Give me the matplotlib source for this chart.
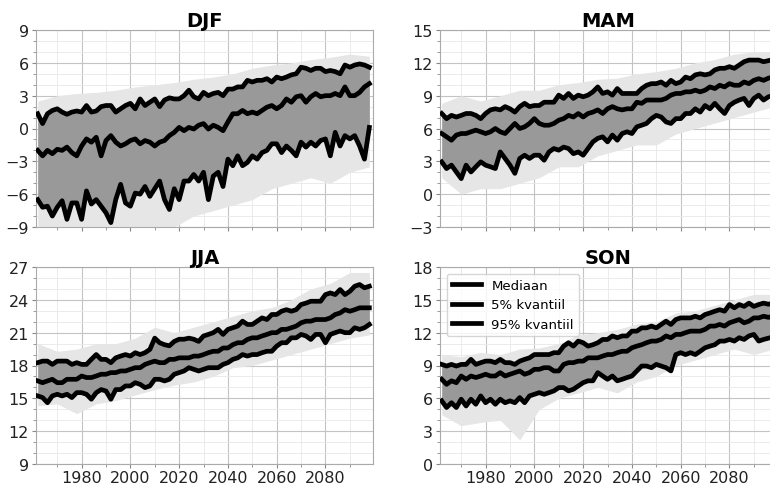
"""Seasonal temperature ensemble (DJF / MAM / JJA / SON), 1961-2099.

Grey = spread of the ensemble members, black = median and 5/95% quantiles.
"""
import matplotlib
matplotlib.use("Agg")
import matplotlib.pyplot as plt
from matplotlib.ticker import MultipleLocator

# --- data (every 2 years) ---------------------------------------------------
YEARS = list(range(1962, 2099, 2))

DJF_Q95 = [1.35, 0.45, 1.35, 1.65, 1.8, 1.5, 1.3, 1.5, 1.6, 1.5,
           2.1, 1.5, 1.6, 2.0, 2.1, 2.1, 1.5, 1.8, 2.1, 2.3,
           1.8, 2.7, 2.1, 2.4, 2.7, 2.0, 2.6, 2.8, 2.7, 2.7,
           3.0, 3.5, 2.9, 2.7, 3.3, 3.0, 3.2, 3.3, 3.0, 3.6,
           3.6, 3.8, 3.8, 4.4, 4.25, 4.4, 4.4, 4.55, 4.25, 4.7,
           4.55, 4.7, 4.9, 5.0, 5.6, 5.5, 5.3, 5.5, 5.5, 5.2,
           5.3, 5.2, 5.0, 5.8, 5.6, 5.8, 5.9, 5.8, 5.6]
DJF_MED = [-2.0, -2.5, -2.0, -2.3, -1.9, -2.0, -1.7, -2.2, -2.5, -1.6,
           -0.95, -1.25, -0.8, -2.5, -1.1, -0.65, -1.25, -1.6, -1.4, -1.1,
           -0.95, -1.4, -1.1, -1.25, -1.6, -1.25, -1.1, -0.65, -0.35, 0.1,
           -0.2, 0.1, -0.05, 0.3, 0.45, -0.05, 0.3, 0.1, -0.2, 0.6,
           1.35, 1.35, 1.65, 1.35, 1.5, 1.35, 1.65, 1.95, 2.1, 1.8,
           2.1, 2.7, 2.4, 2.9, 3.0, 2.4, 2.9, 3.2, 2.9, 3.0,
           3.0, 3.2, 3.0, 3.8, 3.0, 3.0, 3.3, 3.8, 4.1]
DJF_Q05 = [-6.5, -7.2, -7.1, -8.0, -7.2, -6.6, -8.3, -6.8, -6.8, -8.3,
           -5.7, -6.9, -6.5, -7.1, -7.7, -8.6, -6.5, -5.1, -6.8, -7.1,
           -5.9, -6.0, -5.3, -6.2, -5.5, -4.8, -6.5, -7.4, -5.5, -6.5,
           -4.8, -4.8, -4.2, -4.8, -4.0, -6.5, -4.35, -4.0, -5.3, -2.8,
           -3.4, -2.5, -3.4, -3.1, -2.5, -2.8, -2.2, -2.0, -1.4, -1.4,
           -2.2, -1.6, -2.0, -2.5, -1.25, -1.7, -1.25, -1.6, -1.1, -0.95,
           -2.5, -0.35, -1.6, -0.65, -0.95, -0.65, -1.6, -2.8, 0.1]

MAM_Q95 = [7.37, 6.9, 7.2, 7.05, 7.2, 7.37, 7.37, 7.2, 6.9, 7.37,
           7.7, 7.8, 7.7, 8.0, 7.8, 7.5, 8.0, 8.3, 8.0, 8.1,
           8.1, 8.4, 8.4, 8.4, 9.05, 8.75, 9.2, 8.75, 9.05, 8.9,
           9.05, 9.35, 9.8, 9.2, 9.35, 9.05, 9.65, 9.2, 9.2, 9.2,
           9.2, 9.65, 9.95, 10.1, 10.1, 10.25, 9.95, 10.4, 10.1, 10.25,
           10.7, 10.55, 10.9, 11.0, 10.9, 11.0, 11.35, 11.5, 11.5, 11.65,
           11.5, 11.8, 12.1, 12.25, 12.25, 12.25, 12.1, 12.2, 12.3]
MAM_MED = [5.54, 5.24, 4.93, 5.4, 5.54, 5.54, 5.7, 5.85, 5.7, 5.54,
           5.7, 6.0, 5.7, 5.54, 6.0, 6.46, 6.0, 6.15, 6.46, 6.9,
           6.46, 6.3, 6.3, 6.46, 6.76, 6.9, 7.2, 7.05, 7.37, 7.05,
           7.37, 7.5, 7.7, 7.37, 7.8, 8.0, 7.8, 7.7, 7.8, 7.8,
           8.4, 8.3, 8.6, 8.6, 8.6, 8.6, 8.75, 9.05, 9.2, 9.2,
           9.35, 9.35, 9.5, 9.35, 9.5, 9.8, 9.65, 9.95, 9.8, 10.1,
           9.95, 9.95, 10.25, 10.1, 10.4, 10.55, 10.4, 10.6, 10.7]
MAM_Q05 = [2.95, 2.34, 2.65, 2.03, 1.42, 2.65, 2.03, 2.5, 2.95, 2.65,
           2.5, 2.34, 3.86, 3.26, 2.65, 1.9, 3.26, 3.56, 3.26, 3.56,
           3.56, 3.1, 3.86, 4.17, 4.02, 4.3, 4.17, 3.7, 3.86, 3.56,
           4.17, 4.78, 5.1, 5.24, 4.78, 5.4, 4.93, 5.54, 5.7, 5.54,
           6.15, 6.3, 6.46, 6.9, 7.2, 7.05, 6.6, 6.46, 6.9, 6.9,
           7.37, 7.37, 7.8, 7.5, 8.1, 7.8, 8.3, 7.8, 7.37, 8.1,
           8.4, 8.6, 8.75, 8.1, 8.75, 9.05, 8.6, 8.9, 9.0]

JJA_Q95 = [18.26, 18.4, 18.4, 18.1, 18.4, 18.4, 18.4, 18.1, 18.26, 18.1,
           18.1, 18.56, 19.0, 18.56, 18.56, 18.26, 18.7, 18.86, 19.0, 18.86,
           19.17, 19.0, 19.17, 19.47, 20.5, 20.08, 19.9, 19.8, 20.2, 20.4,
           20.4, 20.5, 20.4, 20.2, 20.7, 20.84, 21.0, 21.3, 20.84, 21.3,
           21.45, 21.6, 22.05, 21.75, 21.75, 22.05, 22.35, 22.2, 22.66, 22.66,
           22.96, 23.1, 22.96, 23.1, 23.57, 23.7, 23.87, 23.87, 23.87, 24.48,
           24.63, 24.48, 24.94, 24.48, 24.78, 25.24, 25.4, 25.1, 25.24]
JJA_MED = [16.59, 16.43, 16.59, 16.74, 16.43, 16.43, 16.74, 16.74, 16.74, 17.04,
           16.9, 16.9, 17.04, 17.2, 17.2, 17.35, 17.35, 17.5, 17.5, 17.65,
           17.8, 17.8, 18.1, 18.26, 18.4, 18.26, 18.26, 18.56, 18.56, 18.7,
           18.7, 18.7, 18.86, 18.86, 19.0, 19.17, 19.3, 19.3, 19.6, 19.6,
           19.9, 20.08, 20.08, 20.38, 20.53, 20.53, 20.7, 20.84, 21.0, 21.0,
           21.3, 21.3, 21.45, 21.6, 21.9, 22.05, 22.05, 22.2, 22.2, 22.2,
           22.35, 22.66, 22.8, 23.1, 22.96, 23.1, 23.27, 23.27, 23.27]
JJA_Q05 = [15.22, 15.07, 14.6, 15.22, 15.37, 15.22, 15.37, 15.07, 15.52, 15.52,
           15.37, 14.92, 15.52, 15.8, 15.67, 14.92, 15.8, 15.8, 16.13, 16.13,
           16.43, 16.28, 15.98, 16.13, 16.74, 16.74, 16.59, 16.74, 17.2, 17.35,
           17.5, 17.8, 17.65, 17.5, 17.65, 17.8, 17.8, 17.8, 18.1, 18.26,
           18.56, 18.7, 19.0, 18.86, 19.0, 19.0, 19.17, 19.3, 19.3, 19.77,
           20.08, 20.08, 20.53, 20.53, 20.84, 20.7, 20.38, 20.84, 20.84, 20.08,
           20.84, 21.0, 21.15, 21.0, 21.0, 21.45, 21.3, 21.45, 21.75]

SON_Q95 = [9.1, 8.95, 9.1, 8.95, 9.1, 9.1, 9.56, 9.1, 9.26, 9.4,
           9.4, 9.26, 9.56, 9.26, 9.26, 9.1, 9.4, 9.56, 9.7, 10.0,
           10.0, 10.0, 10.0, 10.17, 10.17, 10.77, 11.08, 10.77, 11.23, 11.08,
           10.77, 10.9, 11.08, 11.38, 11.38, 11.7, 11.54, 11.7, 11.7, 12.14,
           12.14, 12.44, 12.44, 12.6, 12.44, 12.75, 13.05, 12.75, 13.2, 13.35,
           13.35, 13.35, 13.5, 13.35, 13.66, 13.8, 13.96, 14.1, 13.96, 14.57,
           14.27, 14.57, 14.4, 14.7, 14.4, 14.57, 14.7, 14.6, 14.7]
SON_MED = [7.74, 7.28, 7.6, 7.43, 8.04, 7.74, 8.04, 7.9, 8.04, 8.2,
           8.04, 8.04, 8.35, 8.04, 8.2, 8.35, 8.5, 8.2, 8.35, 8.65,
           8.65, 8.8, 8.8, 8.5, 8.5, 9.1, 9.26, 9.26, 9.4, 9.4,
           9.7, 9.7, 9.7, 9.86, 10.0, 10.0, 10.17, 10.3, 10.3, 10.62,
           10.77, 10.9, 11.08, 11.23, 11.23, 11.38, 11.7, 11.54, 11.84, 11.84,
           12.0, 12.14, 12.14, 12.14, 12.3, 12.6, 12.6, 12.75, 12.6, 12.9,
           13.05, 13.2, 12.9, 13.05, 13.35, 13.35, 13.5, 13.4, 13.5]
SON_Q05 = [5.77, 5.16, 5.6, 5.16, 5.92, 5.3, 5.92, 5.46, 6.22, 5.6,
           5.92, 5.46, 5.92, 5.6, 5.77, 5.6, 6.07, 5.6, 6.22, 6.37,
           6.52, 6.37, 6.52, 6.68, 6.98, 6.98, 6.68, 6.83, 7.13, 7.43,
           7.6, 7.6, 8.35, 8.04, 7.74, 8.04, 7.6, 7.74, 7.9, 8.04,
           8.5, 8.95, 8.95, 8.8, 9.1, 8.95, 8.8, 8.5, 10.0, 10.17,
           10.0, 10.17, 10.0, 10.3, 10.62, 10.77, 10.9, 11.23, 11.23, 11.38,
           11.23, 11.54, 11.38, 11.7, 11.84, 11.23, 11.38, 11.5, 11.6]

# outer range of the individual members (every 8 years)
ENV_YEARS = list(range(1962, 2099, 8))
DJF_HI = [2.5, 3.0, 3.2, 3.3, 3.5, 3.8, 4.0, 4.2, 4.5, 4.7, 5.0, 5.5, 5.8, 6.0, 6.3, 6.5, 6.8, 6.6]
DJF_LO = [-9.5, -9.5, -9.5, -9.5, -9.5, -9.3, -9.0, -9.0, -8.0, -7.5, -7.0, -6.5, -5.5, -5.0, -4.5, -5.0, -4.0, -3.5]
MAM_HI = [8.3, 9.0, 8.5, 9.0, 9.5, 9.5, 10.0, 10.2, 10.5, 10.6, 11.0, 11.2, 11.5, 12.0, 12.3, 12.8, 13.0, 13.0]
MAM_LO = [1.5, 0.0, 0.5, 0.5, 1.0, 1.5, 2.5, 2.5, 3.5, 4.0, 4.5, 4.5, 5.5, 6.0, 6.5, 7.0, 7.5, 8.0]
JJA_HI = [20.0, 19.3, 19.5, 20.0, 20.0, 20.5, 21.5, 21.0, 21.5, 22.0, 22.5, 23.0, 23.3, 24.0, 25.0, 25.5, 26.5, 26.5]
JJA_LO = [14.3, 14.5, 13.6, 14.5, 14.8, 15.3, 15.8, 16.2, 16.5, 17.0, 17.8, 18.0, 18.5, 19.0, 19.5, 20.0, 20.5, 20.8]
SON_HI = [10.0, 9.8, 10.2, 10.0, 10.5, 10.6, 11.0, 11.8, 12.0, 12.3, 12.8, 13.0, 13.8, 14.0, 14.5, 15.0, 15.5, 15.5]
SON_LO = [4.5, 3.5, 3.8, 4.0, 2.2, 5.0, 6.0, 6.5, 7.0, 6.5, 7.5, 8.0, 9.0, 9.5, 10.0, 10.5, 10.0, 10.5]

SEASONS = ["DJF", "MAM", "JJA", "SON"]
YLIMS = [(-9, 9), (-3, 15), (9, 27), (0, 18)]

panels = {
    "DJF": (DJF_MED, DJF_Q05, DJF_Q95, DJF_LO, DJF_HI),
    "MAM": (MAM_MED, MAM_Q05, MAM_Q95, MAM_LO, MAM_HI),
    "JJA": (JJA_MED, JJA_Q05, JJA_Q95, JJA_LO, JJA_HI),
    "SON": (SON_MED, SON_Q05, SON_Q95, SON_LO, SON_HI),
}

# --- layout: right column runs slightly past the figure edge (as in the ref)
W, H = 770, 485
fig = plt.figure(figsize=(W / 100, H / 100), dpi=100)
boxes = [(36, 31), (440, 31), (36, 268), (440, 268)]   # left, top in px
AW, AH = 337, 197

for season, (x0, y0), ylim in zip(SEASONS, boxes, YLIMS):
    ax = fig.add_axes([x0 / W, (H - y0 - AH) / H, AW / W, AH / H])
    med, q05, q95, lo, hi = panels[season]

    ax.fill_between(ENV_YEARS, lo, hi, color="0.9", lw=0, zorder=1)
    ax.fill_between(YEARS, q05, q95, color="0.6", lw=0, zorder=2)
    ax.plot(YEARS, med, color="black", lw=3.4, label="Mediaan", zorder=4)
    ax.plot(YEARS, q05, color="black", lw=3.4, label="5% kvantiil", zorder=4)
    ax.plot(YEARS, q95, color="black", lw=3.4, label="95% kvantiil", zorder=4)

    ax.set_xlim(1961.3, 2099.5)
    ax.set_ylim(*ylim)
    ax.xaxis.set_major_locator(MultipleLocator(20))
    ax.xaxis.set_minor_locator(MultipleLocator(10))
    ax.yaxis.set_major_locator(MultipleLocator(3))
    ax.yaxis.set_minor_locator(MultipleLocator(1))
    ax.grid(which="major", color="#c4c4c4", lw=0.8, zorder=0)
    ax.grid(which="minor", color="#e8e8e8", lw=0.6, zorder=0)
    ax.set_axisbelow(True)
    for sp in ax.spines.values():
        sp.set_color("#aaaaaa")
    ax.tick_params(which="both", colors="#888888", labelcolor="#222222",
                   labelsize=11.5)
    ax.tick_params(which="major", length=3, pad=2)
    ax.tick_params(which="minor", length=2)
    ax.tick_params(axis="x", which="major", pad=1)
    if season in ("DJF", "MAM"):
        ax.set_xticklabels([])
    ax.set_title(season, fontsize=14, fontweight="bold", pad=3)

    if season == "SON":
        ax.legend(loc="upper left", fontsize=9.5, frameon=True,
                  edgecolor="#cccccc", handlelength=2.2)

fig.savefig("out.png", dpi=100)
